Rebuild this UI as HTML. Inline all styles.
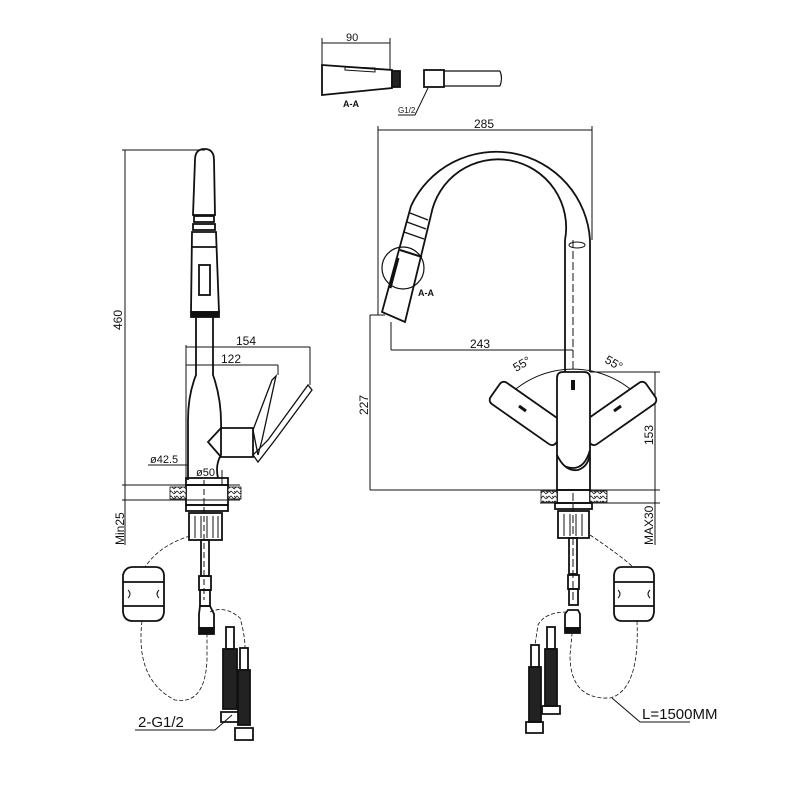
<!DOCTYPE html>
<html><head><style>html,body{margin:0;padding:0;background:#fff}svg{display:block}</style></head><body>
<svg width="800" height="800" viewBox="0 0 800 800" xmlns="http://www.w3.org/2000/svg" font-family="Liberation Sans, sans-serif">
<defs>
<pattern id="h" width="6" height="5" patternUnits="userSpaceOnUse"><rect width="6" height="5" fill="#fff"/><path d="M0,4 L3,1 L6,4 M0,1 L2,3" stroke="#222" stroke-width="0.8" fill="none"/></pattern>
</defs>
<g stroke="#111" fill="none" stroke-width="1.8">
<!-- TOP DETAIL -->
<g stroke-width="1">
<line x1="322" y1="38" x2="322" y2="65"/><line x1="390" y1="38" x2="390" y2="70"/>
<line x1="322" y1="43" x2="390" y2="43"/>
</g>
<path d="M322,65 L392,70 L392,88 L322,95 Z"/>
<path d="M345,67 L375,68 L375,72 L345,70 Z" stroke-width="1"/>
<rect x="392" y="71" width="8" height="16" fill="#222"/>
<rect x="424" y="70" width="20" height="17"/>
<path d="M444,71 L500,71 M444,86 L500,86 M500,71 Q503,78 500,86" stroke-width="1.2"/>
<path d="M428,88 L415,115 L398,115" stroke-width="1"/>
<!-- LEFT VIEW -->
<g stroke-width="1">
<line x1="125" y1="150" x2="125" y2="485"/><line x1="122" y1="150" x2="205" y2="150"/>
<line x1="186" y1="345" x2="186" y2="485"/>
<line x1="186" y1="347" x2="310" y2="347"/><line x1="310" y1="347" x2="310" y2="385"/>
<line x1="186" y1="365" x2="278" y2="365"/><line x1="278" y1="365" x2="278" y2="375"/>
<line x1="148" y1="465" x2="188" y2="465"/>
<line x1="188" y1="478" x2="222" y2="478"/><line x1="222" y1="470" x2="222" y2="485"/>
<line x1="122" y1="485" x2="240" y2="485"/><line x1="122" y1="500" x2="240" y2="500"/>
<line x1="125" y1="485" x2="125" y2="545"/>
<line x1="204" y1="480" x2="204" y2="600" stroke-dasharray="6,3"/>
</g>
<path d="M195,160 Q195,149 204.5,149 Q214,149 214,160 L215,215 L193,215 Z"/>
<rect x="194" y="216" width="20" height="6"/><rect x="193" y="224" width="22" height="6"/>
<path d="M192,232 L216,232 L219,312 L191,312 Z"/>
<line x1="192" y1="247" x2="217" y2="247"/>
<rect x="199" y="265" width="11" height="30"/>
<rect x="191" y="312" width="28" height="5" fill="#111"/>
<path d="M196,317 L196,375 Q188,395 188,420 L188,480 M213,317 L213,375 Q222,400 221,430 L221,455 Q215,465 218,478"/>
<rect x="186" y="478" width="42" height="7"/>
<path d="M221,428 L253,428 L253,457 L221,457 L208,442 Z"/>
<path d="M253,430 L258,455 L262,440 L276,376 L272,380 Z" stroke-width="1.3"/>
<path d="M253,455 L268,440 L308,385 L312,390 L275,440 L258,462 Z" stroke-width="1.3"/>
<rect x="186" y="485" width="42" height="20"/>
<rect x="170" y="487" width="16" height="12" fill="url(#h)" stroke-width="0.8"/>
<rect x="228" y="487" width="13" height="12" fill="url(#h)" stroke-width="0.8"/>
<rect x="186" y="505" width="42" height="6"/>
<rect x="189" y="513" width="33" height="27"/>
<path d="M195,516 V538 M201,516 V538 M207,516 V538 M213,516 V538 M218,516 V538" stroke-width="1"/>
<rect x="201" y="540" width="8" height="36"/>
<rect x="199" y="576" width="12" height="14"/><rect x="200" y="590" width="10" height="16"/>
<path d="M200,606 L210,606 L214,614 L214,628 L199,628 L199,614 Z"/><rect x="199" y="628" width="15" height="6" fill="#111"/>
<rect x="226" y="627" width="8" height="22"/><rect x="223" y="649" width="14" height="60" fill="#222"/>
<path d="M221,712 L239,712 L239,722 L221,722 Z"/>
<rect x="240" y="648" width="8" height="22"/><rect x="238" y="670" width="12" height="55" fill="#222"/>
<path d="M235,728 L253,728 L253,740 L235,740 Z"/>
<path d="M123,575 Q125,567 133,567 L155,567 Q163,567 164,575 L164,612 Q163,621 155,621 L133,621 Q124,621 123,612 Z"/>
<line x1="123" y1="582" x2="164" y2="582"/><line x1="123" y1="606" x2="164" y2="606"/>
<path d="M128,590 Q132,594 128,598 M159,590 Q155,594 159,598" stroke-width="1"/>
<g stroke-width="0.8" stroke-dasharray="4,2">
<path d="M190,536 Q160,545 145,567"/><path d="M142,621 Q135,680 175,700 Q205,705 207,660 L207,634"/>
<path d="M210,612 Q225,605 240,618 Q245,635 245,648"/>
</g>
<path d="M135,730 L215,730 L232,715" stroke-width="1"/>
<!-- RIGHT VIEW -->
<g stroke-width="1">
<line x1="378" y1="130" x2="592" y2="130"/>
<line x1="378" y1="126" x2="378" y2="315"/><line x1="592" y1="126" x2="592" y2="240"/>
<line x1="370" y1="315" x2="385" y2="315"/><line x1="370" y1="315" x2="370" y2="490"/>
<line x1="391" y1="322" x2="391" y2="350"/><line x1="391" y1="350" x2="573" y2="350"/>
<line x1="370" y1="490" x2="660" y2="490"/><line x1="540" y1="503" x2="660" y2="503"/>
<line x1="590" y1="372" x2="660" y2="372"/><line x1="655" y1="372" x2="655" y2="545"/>
<line x1="573" y1="240" x2="573" y2="600" stroke-dasharray="8,3"/>
<path d="M508,396 A92,92 0 0 1 638,396"/>
<line x1="508" y1="396" x2="573" y2="445"/><line x1="638" y1="396" x2="573" y2="445"/>
</g>
<path d="M590,240 A94,94 0 0 0 411,206"/>
<path d="M565,240 A68,68 0 0 0 431,215"/>
<path d="M411,206 L382,312 L405,322 L431,215"/>
<path d="M410,213 L428,220 M407,222 L426,229 M404,232 L424,239" stroke-width="1.3"/>
<line x1="400" y1="250" x2="422" y2="257" stroke-width="2"/>
<path d="M398,258 L390,288" stroke-width="3"/>
<circle cx="403" cy="268" r="21" stroke-width="1.2"/>
<line x1="565" y1="240" x2="565" y2="372"/><line x1="590" y1="240" x2="590" y2="372"/>
<ellipse cx="577" cy="245" rx="8" ry="3" stroke-width="1"/>
<g transform="rotate(35 573 445)"><rect x="478" y="432" width="80" height="26" rx="5" fill="#fff"/></g>
<g transform="rotate(-35 573 445)"><rect x="588" y="432" width="80" height="26" rx="5" fill="#fff"/></g>
<path d="M557,378 Q557,372 563,372 L584,372 Q590,372 590,378 L590,450 Q585,468 573,468 Q560,468 557,455 Z" fill="#fff"/>
<rect x="571" y="380" width="4" height="10" fill="#111" stroke="none"/>
<path d="M557,455 Q565,472 578,470 Q590,466 590,450 L590,490 L557,490 Z" fill="#fff"/>
<path d="M519,406 L526,411 M621,406 L614,411" stroke-width="3"/>
<rect x="557" y="490" width="33" height="13"/>
<rect x="541" y="491" width="16" height="11" fill="url(#h)" stroke-width="0.8"/>
<rect x="590" y="491" width="17" height="11" fill="url(#h)" stroke-width="0.8"/>
<rect x="555" y="503" width="37" height="6"/>
<rect x="558" y="511" width="31" height="27"/>
<path d="M564,514 V536 M570,514 V536 M576,514 V536 M582,514 V536" stroke-width="1"/>
<rect x="569" y="538" width="8" height="36"/>
<rect x="568" y="575" width="11" height="14"/><rect x="569" y="589" width="9" height="16"/>
<path d="M568,610 L578,610 L580,614 L580,628 L565,628 L565,614 Z"/><rect x="565" y="628" width="15" height="5" fill="#111"/>
<rect x="547" y="627" width="8" height="22"/><rect x="545" y="649" width="12" height="57" fill="#222"/>
<path d="M542,706 L560,706 L560,714 L542,714 Z"/>
<rect x="531" y="645" width="8" height="22"/><rect x="529" y="667" width="12" height="55" fill="#222"/>
<path d="M526,722 L543,722 L543,733 L526,733 Z"/>
<path d="M614,575 Q615,567 622,567 L646,567 Q653,567 654,575 L654,612 Q653,621 646,621 L622,621 Q614,621 614,612 Z"/>
<line x1="614" y1="582" x2="654" y2="582"/><line x1="614" y1="606" x2="654" y2="606"/>
<path d="M618,590 Q622,594 618,598 M650,590 Q646,594 650,598" stroke-width="1"/>
<g stroke-width="0.8" stroke-dasharray="4,2">
<path d="M590,535 Q620,555 633,567"/><path d="M637,621 Q640,690 610,698 Q570,700 570,655 L572,634"/>
<path d="M567,612 Q545,612 538,625 L535,645"/>
</g>
<path d="M612,698 L640,722 L690,722" stroke-width="1"/>
</g>
<g fill="#111" font-size="12">
<text x="346" y="41" font-size="11">90</text>
<text x="343" y="107" font-size="9" font-weight="bold">A-A</text>
<text x="398" y="113" font-size="8">G1/2</text>
<text x="474" y="128">285</text>
<text x="418" y="296" font-size="9" font-weight="bold">A-A</text>
<text x="470" y="348">243</text>
<text x="236" y="345">154</text>
<text x="221" y="363">122</text>
<text x="150" y="463" font-size="11">ø42.5</text>
<text x="196" y="476" font-size="11">ø50</text>
<text x="516" y="372" transform="rotate(-30 516 372)">55°</text>
<text x="604" y="362" transform="rotate(30 604 362)">55°</text>
<text transform="translate(122,330) rotate(-90)">460</text>
<text transform="translate(368,415) rotate(-90)">227</text>
<text transform="translate(653,445) rotate(-90)">153</text>
<text transform="translate(124,545) rotate(-90)">Min25</text>
<text transform="translate(653,545) rotate(-90)">MAX30</text>
<text x="138" y="727" font-size="15">2-G1/2</text>
<text x="642" y="719" font-size="15">L=1500MM</text>
</g>
</svg>
</body></html>
